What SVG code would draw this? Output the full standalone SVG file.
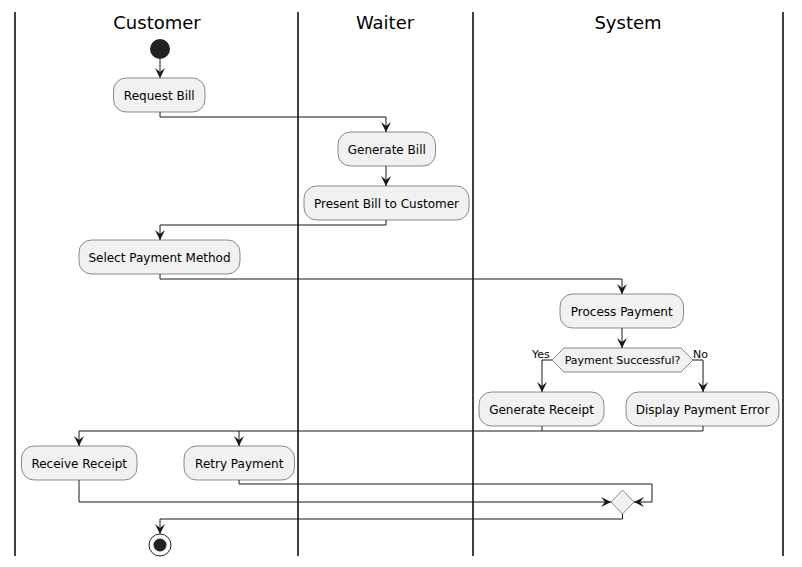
<svg xmlns="http://www.w3.org/2000/svg" width="802" height="567" viewBox="0 0 802 567">
<defs>
<style>
.lane{stroke:#000;stroke-width:1.5;fill:none}
.title{font-family:"DejaVu Sans",sans-serif;font-size:18px;fill:#000;text-anchor:middle}
.box{fill:#F1F1F1;stroke:#181818;stroke-width:0.5}
.lbl{font-family:"DejaVu Sans",sans-serif;font-size:12px;fill:#000;text-anchor:middle}
.small{font-family:"DejaVu Sans",sans-serif;font-size:11px;fill:#000}
.edge{fill:none;stroke:#181818;stroke-width:1}
</style>
<marker id="arr" viewBox="0 0 10 10" refX="10" refY="5" markerWidth="10" markerHeight="10" markerUnits="userSpaceOnUse" orient="auto">
<path d="M0,0 L10,5 L0,10 L4,5 Z" fill="#181818"/>
</marker>
</defs>
<rect width="802" height="567" fill="#fff"/>
<g id="lanes">
<line class="lane" x1="15" y1="12" x2="15" y2="556"/>
<line class="lane" x1="298" y1="12" x2="298" y2="556"/>
<line class="lane" x1="473" y1="12" x2="473" y2="556"/>
<line class="lane" x1="783" y1="12" x2="783" y2="556"/>
<text class="title" x="157" y="29">Customer</text>
<text class="title" x="385" y="29">Waiter</text>
<text class="title" x="628" y="29">System</text>
</g>
<g id="connectors">
<path class="edge" d="M160,59 L160,78" marker-end="url(#arr)"/>
<path class="edge" d="M160,112 L160,117 L386,117 L386,132" marker-end="url(#arr)"/>
<path class="edge" d="M386,166 L386,186" marker-end="url(#arr)"/>
<path class="edge" d="M386,220 L386,225 L160,225 L160,240" marker-end="url(#arr)"/>
<path class="edge" d="M160,274 L160,279 L622,279 L622,294" marker-end="url(#arr)"/>
<path class="edge" d="M622,328 L622,348" marker-end="url(#arr)"/>
<path class="edge" d="M552,360 L542,360 L542,392" marker-end="url(#arr)"/>
<path class="edge" d="M693,360 L703,360 L703,392" marker-end="url(#arr)"/>
<path class="edge" d="M542,426 L542,431"/>
<path class="edge" d="M703,426 L703,431 L79,431 L79,446" marker-end="url(#arr)"/>
<path class="edge" d="M239,431 L239,446" marker-end="url(#arr)"/>
<path class="edge" d="M239,480 L239,484 L652,484 L652,502 L634,502" marker-end="url(#arr)"/>
<path class="edge" d="M79,480 L79,502 L611,502" marker-end="url(#arr)"/>
<path class="edge" d="M622.5,514 L622.5,519 L160,519 L160,534" marker-end="url(#arr)"/>
<text class="small" x="532" y="358">Yes</text>
<text class="small" x="693" y="358">No</text>
</g>
<g id="start"><circle cx="160" cy="49" r="10" fill="#222"/></g>
<g id="request-bill"><rect class="box" x="113.5" y="78" width="91.5" height="34" rx="12.5"/><text class="lbl" x="159.25" y="99.5">Request Bill</text></g>
<g id="generate-bill"><rect class="box" x="338" y="132" width="97.5" height="34" rx="12.5"/><text class="lbl" x="386.75" y="153.5">Generate Bill</text></g>
<g id="present-bill"><rect class="box" x="304" y="186" width="165" height="34" rx="12.5"/><text class="lbl" x="386.5" y="207.5">Present Bill to Customer</text></g>
<g id="select-payment"><rect class="box" x="79" y="240" width="161" height="34" rx="12.5"/><text class="lbl" x="159.5" y="261.5">Select Payment Method</text></g>
<g id="process-payment"><rect class="box" x="560" y="294" width="123.5" height="34" rx="12.5"/><text class="lbl" x="621.75" y="315.5">Process Payment</text></g>
<g id="decision"><polygon class="box" points="552,360 564,348 681,348 693,360 681,372 564,372"/><text class="small" x="622.5" y="364" text-anchor="middle">Payment Successful?</text></g>
<g id="generate-receipt"><rect class="box" x="479" y="392" width="125" height="34" rx="12.5"/><text class="lbl" x="541.5" y="413.5">Generate Receipt</text></g>
<g id="display-error"><rect class="box" x="626" y="392" width="153" height="34" rx="12.5"/><text class="lbl" x="702.5" y="413.5">Display Payment Error</text></g>
<g id="receive-receipt"><rect class="box" x="21.5" y="446" width="115.5" height="34" rx="12.5"/><text class="lbl" x="79.25" y="467.5">Receive Receipt</text></g>
<g id="retry-payment"><rect class="box" x="184" y="446" width="110.5" height="34" rx="12.5"/><text class="lbl" x="239.25" y="467.5">Retry Payment</text></g>
<g id="merge"><polygon class="box" points="611,502 622.5,490 634,502 622.5,514"/></g>
<g id="end"><circle cx="160" cy="545" r="11" fill="none" stroke="#222" stroke-width="1"/><circle cx="160" cy="545" r="6.5" fill="#222"/></g>
</svg>
